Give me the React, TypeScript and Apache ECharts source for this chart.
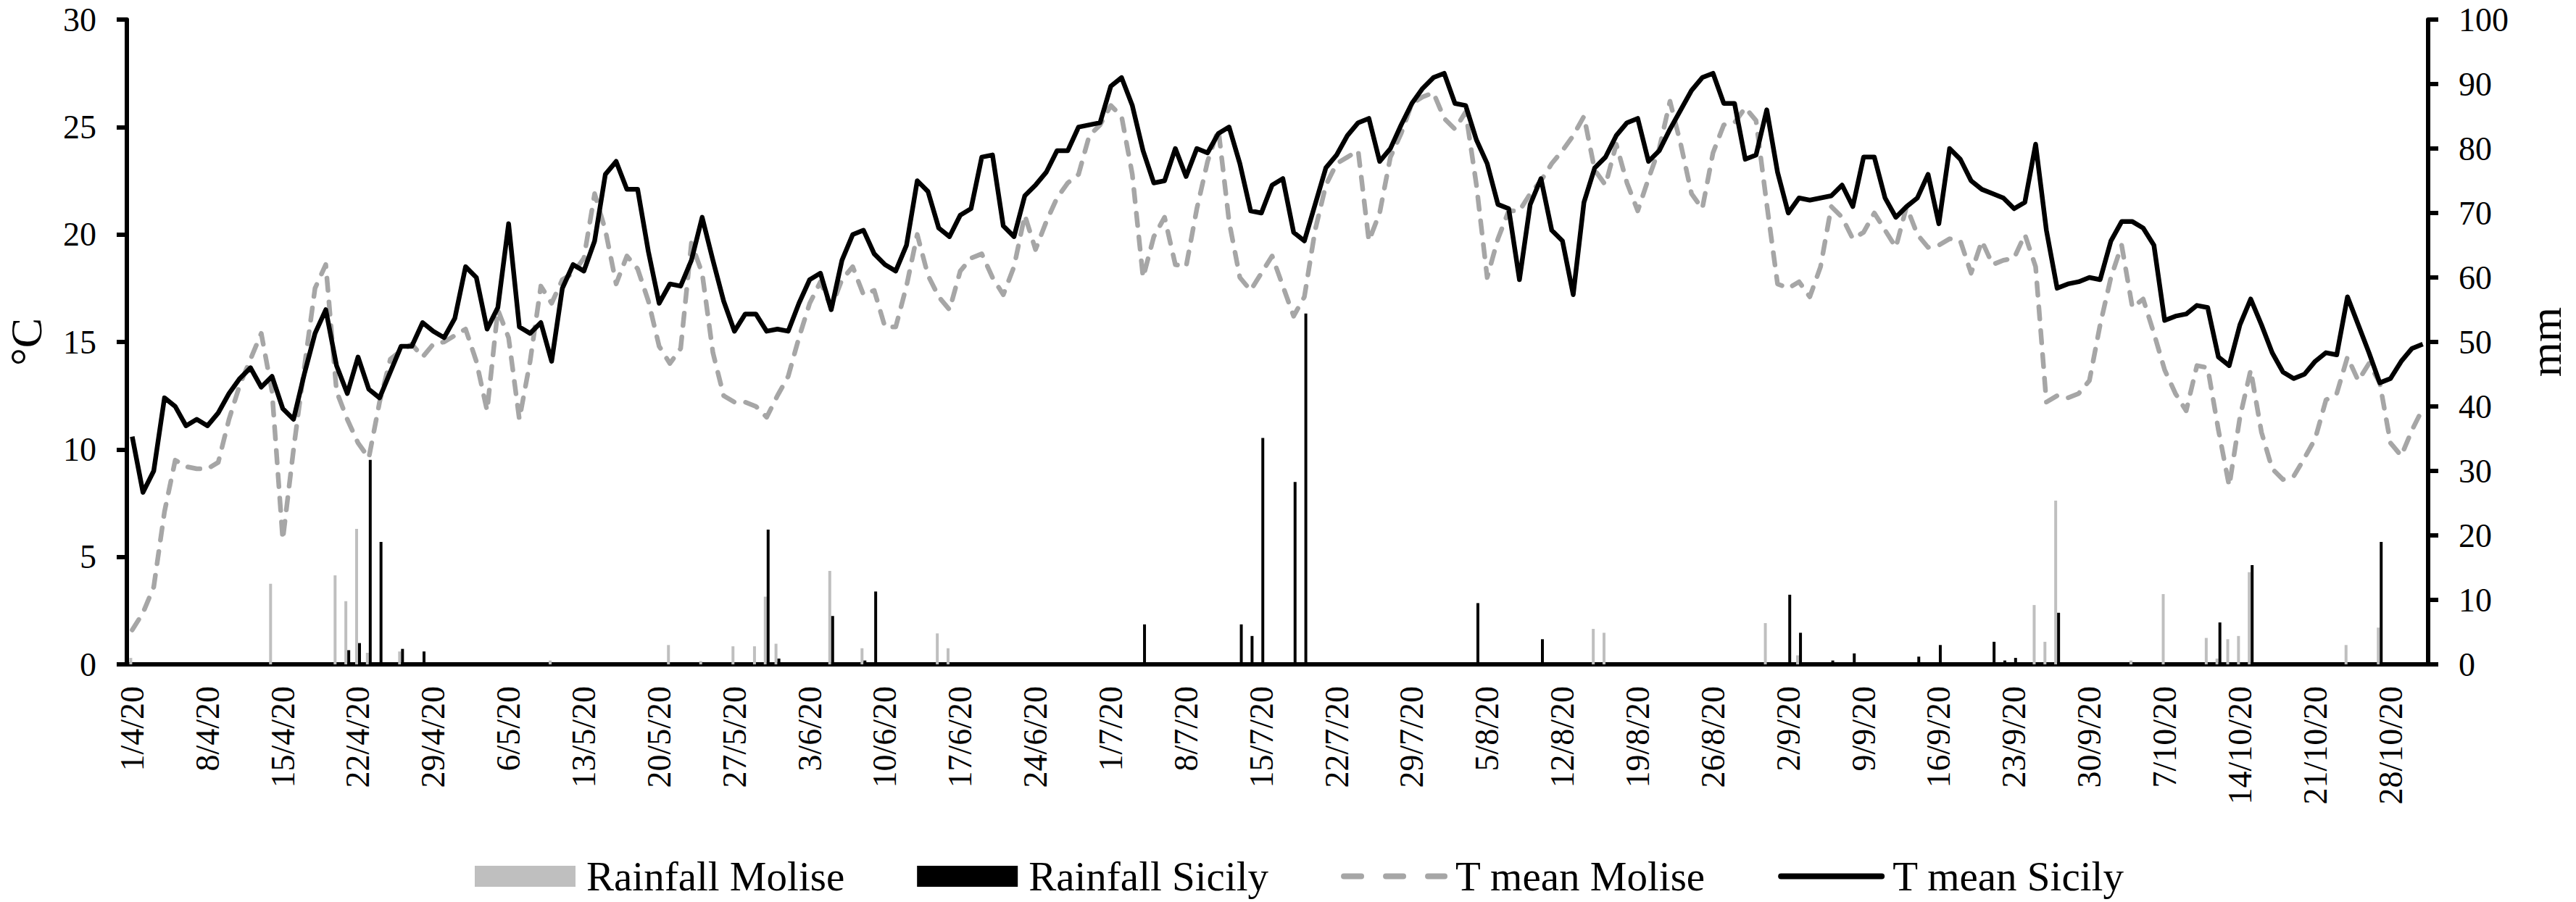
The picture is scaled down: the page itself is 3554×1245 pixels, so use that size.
import React, { useEffect, useRef } from "react";
import * as echarts from "echarts";

const FONT = "Liberation Serif";

// Daily mean temperature, Sicily (°C), 1/4/2020 - 31/10/2020
const tSicilyApr = [10.6, 8.0, 9.0, 12.4, 12.0, 11.1, 11.4, 11.1, 11.7, 12.6, 13.3, 13.8, 12.9, 13.4, 11.9, 11.4, 13.5, 15.4, 16.5, 13.9, 12.6, 14.3, 12.8, 12.4, 13.6, 14.8, 14.8, 15.9, 15.5, 15.2];
const tSicilyMay = [16.1, 18.5, 18.0, 15.6, 16.6, 20.5, 15.7, 15.4, 15.9, 14.1, 17.5, 18.6, 18.3, 19.7, 22.8, 23.4, 22.1, 22.1, 19.2, 16.8, 17.7, 17.6, 18.8, 20.8, 18.8, 16.9, 15.5, 16.3, 16.3, 15.5, 15.6];
const tSicilyJun = [15.5, 16.8, 17.9, 18.2, 16.5, 18.8, 20.0, 20.2, 19.1, 18.6, 18.3, 19.5, 22.5, 22.0, 20.3, 19.9, 20.9, 21.2, 23.6, 23.7, 20.4, 19.9, 21.8, 22.3, 22.9, 23.9, 23.9, 25.0, 25.1, 25.2];
const tSicilyJul = [26.9, 27.3, 26.0, 23.9, 22.4, 22.5, 24.0, 22.7, 24.0, 23.8, 24.7, 25.0, 23.3, 21.1, 21.0, 22.3, 22.6, 20.1, 19.7, 21.4, 23.1, 23.7, 24.6, 25.2, 25.4, 23.4, 24.0, 25.1, 26.1, 26.8, 27.3];
const tSicilyAug = [27.5, 26.1, 26.0, 24.4, 23.3, 21.4, 21.2, 17.9, 21.4, 22.6, 20.2, 19.7, 17.2, 21.5, 23.1, 23.6, 24.6, 25.2, 25.4, 23.4, 23.9, 24.9, 25.8, 26.7, 27.3, 27.5, 26.1, 26.1, 23.5, 23.7, 25.8];
const tSicilySep = [22.9, 21.0, 21.7, 21.6, 21.7, 21.8, 22.3, 21.3, 23.6, 23.6, 21.7, 20.8, 21.3, 21.7, 22.8, 20.5, 24.0, 23.5, 22.5, 22.1, 21.9, 21.7, 21.2, 21.5, 24.2, 20.2, 17.5, 17.7, 17.8, 18.0];
const tSicilyOct = [17.9, 19.7, 20.6, 20.6, 20.3, 19.5, 16.0, 16.2, 16.3, 16.7, 16.6, 14.3, 13.9, 15.8, 17.0, 15.8, 14.5, 13.6, 13.3, 13.5, 14.1, 14.5, 14.4, 17.1, 15.8, 14.5, 13.1, 13.3, 14.1, 14.7, 14.9];

// Daily mean temperature, Molise (°C)
const tMoliseApr = [1.6, 2.4, 3.6, 7.1, 9.5, 9.2, 9.1, 9.1, 9.4, 11.4, 13.0, 14.2, 15.4, 12.7, 5.8, 10.0, 13.8, 17.5, 18.6, 12.7, 11.4, 10.3, 9.6, 12.2, 14.2, 14.6, 14.9, 14.3, 14.9, 15.0];
const tMoliseMay = [15.3, 15.6, 14.1, 11.8, 16.5, 15.2, 11.4, 14.1, 17.6, 16.8, 17.9, 18.2, 18.9, 21.9, 20.2, 17.7, 19.0, 18.4, 16.9, 14.8, 14.0, 14.7, 19.6, 18.2, 14.5, 12.5, 12.2, 12.2, 12.0, 11.5, 12.5];
const tMoliseJun = [13.4, 15.2, 16.8, 17.8, 16.6, 17.9, 18.5, 17.2, 17.4, 15.7, 15.7, 17.6, 20.0, 18.1, 17.1, 16.5, 18.3, 18.9, 19.1, 18.0, 17.2, 18.5, 20.9, 19.3, 20.6, 21.7, 22.4, 22.8, 24.6, 25.1];
const tMoliseJul = [26.0, 25.5, 22.8, 18.0, 19.9, 20.8, 18.6, 18.5, 21.2, 23.4, 24.9, 20.6, 18.0, 17.4, 18.2, 19.0, 17.6, 16.2, 17.1, 20.2, 22.3, 23.3, 23.6, 23.9, 19.7, 21.0, 23.6, 24.7, 26.1, 26.4, 26.6];
const tMoliseAug = [25.4, 24.9, 25.7, 22.3, 18.0, 19.8, 21.1, 21.1, 21.9, 22.5, 23.3, 23.9, 24.6, 25.5, 23.0, 22.3, 24.2, 22.4, 21.1, 22.6, 24.0, 26.2, 24.2, 21.9, 21.2, 23.8, 25.1, 25.2, 25.9, 25.3, 21.4];
const tMoliseSep = [17.7, 17.5, 17.8, 17.1, 18.5, 21.3, 20.8, 19.8, 20.1, 21.0, 20.2, 19.4, 21.3, 20.0, 19.4, 19.5, 19.8, 19.7, 18.2, 19.7, 18.6, 18.8, 18.9, 20.0, 18.5, 12.2, 12.5, 12.4, 12.6, 13.2];
const tMoliseOct = [15.8, 18.0, 19.5, 16.6, 17.0, 15.4, 13.7, 12.6, 11.8, 13.9, 13.8, 10.9, 8.3, 11.5, 13.7, 10.8, 9.1, 8.6, 8.75, 9.6, 10.5, 12.3, 12.6, 14.3, 13.2, 14.0, 13.1, 10.3, 9.7, 10.9, 11.9];

// Rainfall events: [day number (1 = 1/4/20), mm]
const rainMoliseEvents = [
  [1, 1.0], [14, 12.5], [20, 13.8], [21, 9.8], [22, 21.0], [23, 1.8], [26, 2.0],
  [40, 0.6], [51, 3.0], [54, 0.5], [57, 2.8], [59, 2.8], [60, 10.5], [61, 3.2],
  [66, 14.5], [69, 2.5], [76, 4.8], [77, 2.5], [137, 5.5], [138, 4.9], [153, 6.4],
  [156, 1.4], [178, 9.2], [179, 3.5], [180, 25.4], [187, 0.6], [190, 10.9],
  [194, 4.1], [195, 0.9], [196, 3.9], [197, 4.4], [198, 14.3], [207, 3.0], [210, 5.7],
];
const rainSicilyEvents = [
  [21, 2.2], [22, 3.3], [23, 31.7], [24, 19.0], [26, 2.4], [28, 2.0],
  [60, 20.9], [61, 0.9], [66, 7.5], [69, 0.6], [70, 11.3], [95, 6.2],
  [104, 6.2], [105, 4.4], [106, 35.1], [109, 28.3], [110, 54.4], [126, 9.5],
  [132, 3.9], [149, 0.3], [155, 10.8], [156, 4.9], [159, 0.6], [161, 1.7],
  [166, 0.3], [167, 1.2], [169, 3.0], [174, 3.5], [175, 0.6], [176, 1.0],
  [180, 8.0], [195, 6.5], [198, 15.4], [210, 19.0],
];

const tSicily = [...tSicilyApr, ...tSicilyMay, ...tSicilyJun, ...tSicilyJul, ...tSicilyAug, ...tSicilySep, ...tSicilyOct];
const tMolise = [...tMoliseApr, ...tMoliseMay, ...tMoliseJun, ...tMoliseJul, ...tMoliseAug, ...tMoliseSep, ...tMoliseOct];
const N_DAYS = tSicily.length;

const dates: string[] = [];
for (let i = 0; i < N_DAYS; i++) {
  const d = new Date(2020, 3, 1 + i);
  dates.push(`${d.getDate()}/${d.getMonth() + 1}/20`);
}

function toDaily(events: number[][]): number[] {
  const arr = new Array(N_DAYS).fill(0);
  events.forEach(([day, mm]) => {
    arr[day - 1] = mm;
  });
  return arr;
}
const rainMolise = toDaily(rainMoliseEvents);
const rainSicily = toDaily(rainSicilyEvents);

const MOLISE_GREY = "#a6a6a6";
const RAIN_GREY = "#bfbfbf";

export default function App() {
  const ref = useRef<HTMLDivElement>(null);
  useEffect(() => {
    if (!ref.current) return;
    const chart = echarts.init(ref.current, undefined, { renderer: "svg" });
    const axisCommon = {
      axisLine: { show: true, lineStyle: { color: "#000", width: 6 } },
      axisTick: { show: true, inside: false, length: 14, lineStyle: { color: "#000", width: 6 } },
      axisLabel: { fontSize: 46, color: "#000", fontFamily: FONT, margin: 42 },
      splitLine: { show: false },
    };
    const hiddenSymbol = { color: "rgba(0,0,0,0)", borderWidth: 0, opacity: 0 };
    chart.setOption({
      animation: false,
      backgroundColor: "#fff",
      textStyle: { fontFamily: FONT, color: "#000" },
      grid: { left: 175, right: 204, top: 27, bottom: 328, containLabel: false },
      legend: {
        left: 650,
        top: 1176,
        itemWidth: 139,
        itemHeight: 29,
        itemGap: 100,
        textStyle: { fontSize: 57, color: "#000", fontFamily: FONT, padding: [0, 0, 0, 10] },
        data: [
          { name: "Rainfall Molise", icon: "rect" },
          { name: "Rainfall Sicily", icon: "rect" },
          {
            name: "T mean Molise",
            itemStyle: hiddenSymbol,
            lineStyle: { color: MOLISE_GREY, width: 8, type: [24, 34], cap: "round" },
          },
          {
            name: "T mean Sicily",
            itemStyle: hiddenSymbol,
            lineStyle: { color: "#000", width: 8, type: "solid", cap: "round" },
          },
        ],
      },
      xAxis: {
        type: "category",
        data: dates,
        boundaryGap: true,
        axisLine: { show: true, lineStyle: { color: "#000", width: 6 } },
        axisTick: { show: false },
        axisLabel: { interval: 6, rotate: 90, fontSize: 46, color: "#000", fontFamily: FONT, margin: 30 },
        splitLine: { show: false },
      },
      yAxis: [
        { type: "value", min: 0, max: 30, interval: 5, position: "left", ...axisCommon },
        { type: "value", min: 0, max: 100, interval: 10, position: "right", ...axisCommon },
      ],
      graphic: [
        {
          type: "text",
          x: 36,
          y: 472,
          rotation: Math.PI / 2,
          style: { text: "°C", fontSize: 62, fontFamily: FONT, fill: "#000", align: "center", verticalAlign: "middle" },
        },
        {
          type: "text",
          x: 3512,
          y: 472,
          rotation: Math.PI / 2,
          style: { text: "mm", fontSize: 62, fontFamily: FONT, fill: "#000", align: "center", verticalAlign: "middle" },
        },
      ],
      series: [
        {
          name: "Rainfall Molise",
          type: "bar",
          yAxisIndex: 1,
          data: rainMolise,
          barWidth: 4,
          barGap: "0%",
          itemStyle: { color: RAIN_GREY },
        },
        {
          name: "Rainfall Sicily",
          type: "bar",
          yAxisIndex: 1,
          data: rainSicily,
          barWidth: 4,
          barGap: "0%",
          itemStyle: { color: "#000" },
        },
        {
          name: "T mean Molise",
          type: "line",
          yAxisIndex: 0,
          data: tMolise,
          symbol: "none",
          itemStyle: { color: MOLISE_GREY },
          lineStyle: { color: MOLISE_GREY, width: 6.5, type: [17, 16], cap: "round", join: "round" },
        },
        {
          name: "T mean Sicily",
          type: "line",
          yAxisIndex: 0,
          data: tSicily,
          symbol: "none",
          itemStyle: { color: "#000" },
          lineStyle: { color: "#000", width: 6.5, join: "round" },
        },
      ],
    });
    return () => chart.dispose();
  }, []);
  return (
    <div
      ref={ref}
      style={{ position: "fixed", left: 0, top: 0, width: 3554, height: 1245, background: "#fff" }}
    />
  );
}
